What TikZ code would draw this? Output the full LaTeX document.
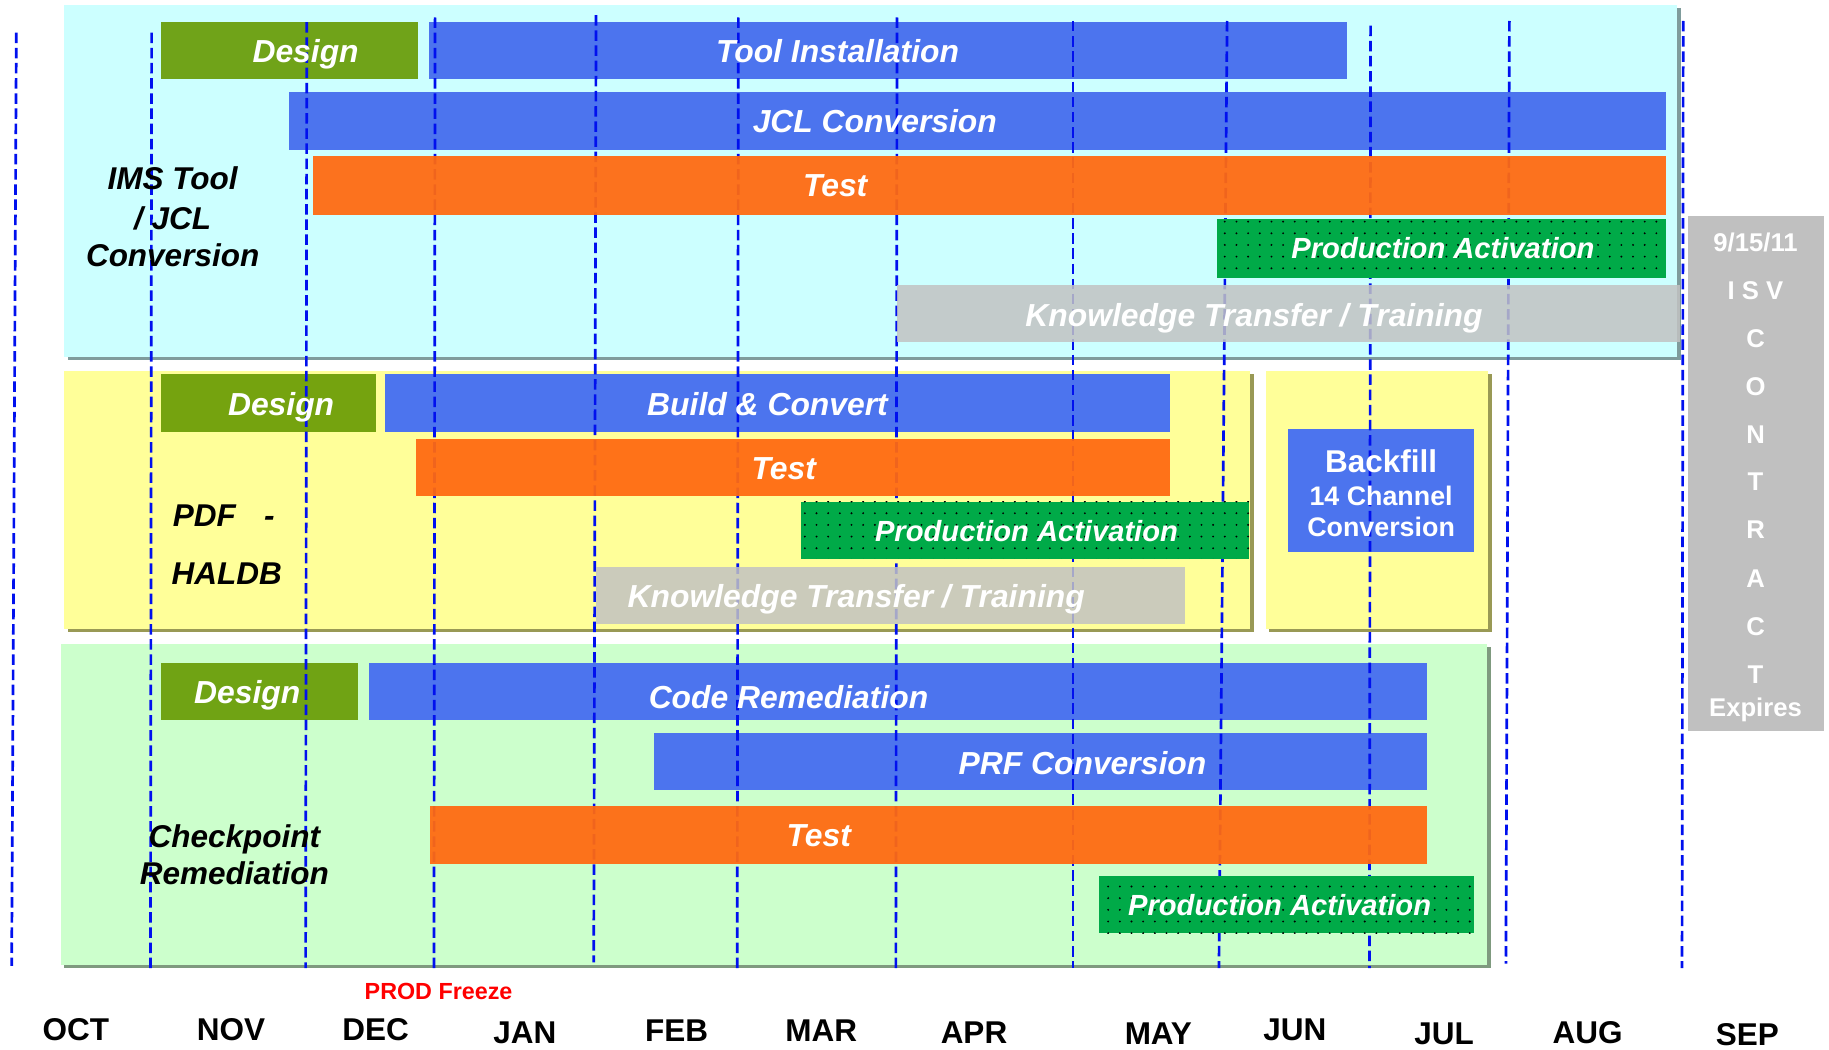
\documentclass[tikz,border=0pt]{standalone}
\usepackage{fontspec}
\setmainfont{Liberation Sans}
\usetikzlibrary{patterns.meta}
\definecolor{cyanbg}{HTML}{CCFFFF}
\definecolor{cyansh}{HTML}{7F9C9C}
\definecolor{yelbg}{HTML}{FFFF99}
\definecolor{yelsh}{HTML}{999955}
\definecolor{grnbg}{HTML}{CCFFCC}
\definecolor{grnsh}{HTML}{7F9A7F}
\definecolor{olive1}{HTML}{669900}
\definecolor{blue1}{HTML}{4C74EE}
\definecolor{orange1}{HTML}{FF6A10}
\definecolor{green1}{HTML}{00AA48}
\definecolor{gray1}{HTML}{C2C2C2}
\definecolor{side}{HTML}{C0C0C0}
\definecolor{lineblue}{HTML}{0010EE}
\newcommand\gbar[6]{\node[#2, minimum width={(#5-#3)*1pt}, minimum height={(#6-#4)*1pt}] (#1) at (#3,#4) {};}
\begin{document}
\begin{tikzpicture}[x=1pt,y=-1pt,
  barbox/.style={anchor=north west, inner sep=0pt, outer sep=0pt, draw=none},
  designbar/.style={barbox, fill=olive1, fill opacity=0.9},
  bluebar/.style={barbox, fill=blue1},
  orangebar/.style={barbox, fill=orange1, fill opacity=0.94},
  graybar/.style={barbox, fill=gray1, fill opacity=0.85},
  greenbar/.style={barbox, fill=green1, postaction={pattern={Dots[distance=10pt, radius=0.9pt]}, pattern color=black}},
  sidebar/.style={barbox, fill=side},
  bartext/.style={anchor=base, yshift=-9.8pt, inner sep=0pt, text=white, font=\fontsize{27.3}{32}\selectfont\bfseries\itshape},
  pabar/.style={anchor=base, yshift=-9pt, inner sep=0pt, text=white, font=\fontsize{25}{30}\selectfont\bfseries\itshape},
  lbl/.style={anchor=base, yshift=-9.5pt, inner sep=0pt, text=black, font=\fontsize{27}{32}\selectfont\bfseries\itshape},
  month/.style={anchor=base, yshift=-9.7pt, inner sep=0pt, text=black, font=\fontsize{27}{32}\selectfont\bfseries},
  sidetext/.style={anchor=base, yshift=-7.9pt, inner sep=0pt, text=white, font=\fontsize{22}{26}\selectfont\bfseries},
  bftext/.style={anchor=base, yshift=-8.2pt, inner sep=0pt, text=white, font=\fontsize{23}{27}\selectfont\bfseries},
  mline/.style={draw=lineblue, line width=2.3pt, dash pattern=on 9pt off 4pt}
]
\useasboundingbox (0,0) rectangle (1568,900);
% panels
\fill[cyansh] (58,7) rectangle (1441,309);
\fill[cyanbg] (55,4) rectangle (1438,306);
\fill[yelsh] (58,321) rectangle (1075,542);
\fill[yelbg] (55,318) rectangle (1072,539);
\fill[yelsh] (1088,321) rectangle (1279,542);
\fill[yelbg] (1085,318) rectangle (1276,539);
\fill[grnsh] (55,555) rectangle (1278,830);
\fill[grnbg] (52,552) rectangle (1275,827);
% bars under the lines
\gbar{d1}{designbar}{138}{19}{358}{68}
\gbar{ti}{bluebar}{368}{19}{1155}{68}
\gbar{jcl}{bluebar}{248}{79}{1428}{129}
\gbar{d2}{designbar}{138}{321}{322}{370}
\gbar{bc}{bluebar}{330}{321}{1003}{370}
\gbar{bf}{bluebar}{1104}{368}{1264}{473}
\gbar{d3}{designbar}{138}{568}{307}{617}
\gbar{cr}{bluebar}{316}{568}{1223}{617}
\gbar{prf}{bluebar}{561}{628}{1223}{677}
% month lines
\foreach \xa/\xb/\ya/\yb in {14/10/28/828, 130/129/28/830, 263/262/19/830, 373/372/15/830, 511/509/13/825, 633/632/15/830, 769/768/15/830, 920/920/18/830, 1052/1045/18/830, 1175/1174/22/830, 1294/1291/18/826, 1443/1442/18/830}
  \draw[mline] (\xa,\ya) -- (\xb,\yb);
% bars over the lines
\gbar{t1}{orangebar}{268}{134}{1428}{184}
\gbar{t2}{orangebar}{357}{376}{1003}{425}
\gbar{t3}{orangebar}{369}{691}{1223}{741}
\gbar{kt1}{graybar}{769}{244}{1440}{293}
\gbar{kt2}{graybar}{511}{486}{1016}{535}
\gbar{pa1}{greenbar}{1043}{188}{1428}{238}
\gbar{pa2}{greenbar}{687}{430}{1071}{479}
\gbar{pa3}{greenbar}{942}{751}{1264}{800}
\gbar{sb}{sidebar}{1447}{185}{1564}{627}
% bar texts
\node[bartext] (d1t) at (262,44) {Design};
\node[bartext] (tit) at (718,44) {Tool Installation};
\node[bartext] (jclt) at (750,104) {JCL Conversion};
\node[bartext] (t1t) at (716,159) {Test};
\node[pabar] (pa1t) at (1237,213) {Production Activation};
\node[bartext] (kt1t) at (1075,270) {Knowledge Transfer / Training};
\node[bartext] (d2t) at (241,346) {Design};
\node[bartext] (bct) at (658,346) {Build \& Convert};
\node[bartext] (t2t) at (672,401) {Test};
\node[pabar] (pa2t) at (880,455) {Production Activation};
\node[bartext] (kt2t) at (734,511) {Knowledge Transfer / Training};
\node[bartext] (d3t) at (212,593) {Design};
\node[bartext] (crt) at (676,598) {Code Remediation};
\node[bartext] (prft) at (928,654) {PRF Conversion};
\node[bartext] (t3t) at (702,716) {Test};
\node[pabar] (pa3t) at (1097,776) {Production Activation};
% backfill
\node[anchor=base, yshift=-9.7pt, inner sep=0pt, text=white, font=\fontsize{27}{32}\selectfont\bfseries] (bf1) at (1184,395) {Backfill};
\node[bftext] (bf2) at (1184,425) {14 Channel};
\node[bftext] (bf3) at (1184,452) {Conversion};
% left labels
\node[lbl] (l1a) at (148,153) {IMS Tool};
\node[lbl] (l1b) at (148,187) {/ JCL};
\node[lbl] (l1c) at (148,219) {Conversion};
\node[lbl, anchor=base west] (l2a) at (148,442) {PDF\hspace{0.9em}-};
\node[lbl, anchor=base west] (l2b) at (147,492) {HALDB};
\node[lbl] (l3a) at (201,717) {Checkpoint};
\node[lbl] (l3b) at (201,749) {Remediation};
% sidebar text
\node[sidetext] (s1) at (1505,208) {9/15/11};
\node[sidetext] (s2) at (1505,249) {I S V};
\node[sidetext] (s3) at (1505,290) {C};
\node[sidetext] (s4) at (1505,331) {O};
\node[sidetext] (s5) at (1505,372) {N};
\node[sidetext] (s6) at (1505,413) {T};
\node[sidetext] (s7) at (1505,454) {R};
\node[sidetext] (s8) at (1505,496) {A};
\node[sidetext] (s9) at (1505,537) {C};
\node[sidetext] (s10) at (1505,578) {T};
\node[sidetext] (s11) at (1505,606) {Expires};
% freeze
\node[anchor=base, yshift=-7.2pt, inner sep=0pt, text=red, font=\fontsize{20}{24}\selectfont\bfseries] (pf) at (376,850) {PROD Freeze};
% months
\node[month] (m1) at (65,882) {OCT};
\node[month] (m2) at (198,882) {NOV};
\node[month] (m3) at (322,882) {DEC};
\node[month] (m4) at (450,885) {JAN};
\node[month] (m5) at (580,883) {FEB};
\node[month] (m6) at (704,883) {MAR};
\node[month] (m7) at (835,885) {APR};
\node[month] (m8) at (993,886) {MAY};
\node[month] (m9) at (1110,882) {JUN};
\node[month] (m10) at (1238,886) {JUL};
\node[month] (m11) at (1361,885) {AUG};
\node[month] (m12) at (1498,887) {SEP};
\end{tikzpicture}
\end{document}
